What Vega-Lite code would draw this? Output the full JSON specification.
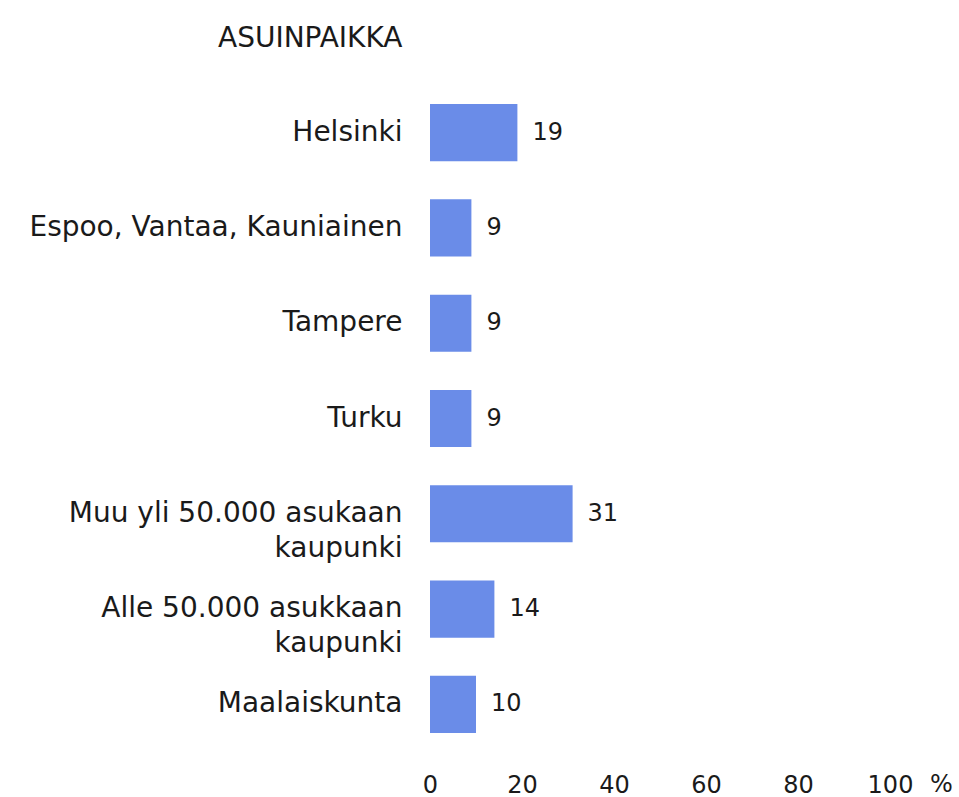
{
  "$schema": "https://vega.github.io/schema/vega-lite/v6.json",
  "autosize": {"type": "none"},
  "padding": {"left": 430, "top": 85, "right": 69, "bottom": 45},
  "width": 460,
  "height": 667,
  "background": "white",
  "config": {
    "font": "DejaVu Sans",
    "view": {"stroke": null},
    "axis": {"labelFont": "DejaVu Sans", "titleFont": "DejaVu Sans", "labelColor": "#1a1a1a", "titleColor": "#1a1a1a"}
  },
  "data": {
    "values": [
      {"asuinpaikka": "Helsinki", "prosentti": 19},
      {"asuinpaikka": "Espoo, Vantaa, Kauniainen", "prosentti": 9},
      {"asuinpaikka": "Tampere", "prosentti": 9},
      {"asuinpaikka": "Turku", "prosentti": 9},
      {"asuinpaikka": "Muu yli 50.000 asukaan|kaupunki", "prosentti": 31},
      {"asuinpaikka": "Alle 50.000 asukkaan|kaupunki", "prosentti": 14},
      {"asuinpaikka": "Maalaiskunta", "prosentti": 10}
    ]
  },
  "encoding": {
    "y": {
      "field": "asuinpaikka",
      "type": "nominal",
      "sort": null,
      "scale": {"paddingInner": 0.4, "paddingOuter": 0.2},
      "axis": {
        "title": "ASUINPAIKKA",
        "titleAngle": 0,
        "titleAlign": "right",
        "titleBaseline": "middle",
        "titleX": -28,
        "titleY": -47,
        "titleFontSize": 28,
        "titleFontWeight": "normal",
        "labelExpr": "split(datum.label, '|')",
        "labelFontSize": 28,
        "labelLineHeight": 35,
        "labelPadding": 28,
        "labelLimit": 500,
        "ticks": false,
        "domain": false
      }
    },
    "x": {
      "field": "prosentti",
      "type": "quantitative",
      "scale": {"domain": [0, 100]},
      "axis": {
        "values": [0, 20, 40, 60, 80, 100],
        "title": "%",
        "titleX": 511,
        "titleY": 20,
        "titleAlign": "center",
        "titleBaseline": "top",
        "titleFontSize": 24,
        "titleFontWeight": "normal",
        "labelFontSize": 24,
        "labelPadding": 21,
        "labelFlush": false,
        "labelOverlap": false,
        "ticks": false,
        "domain": false,
        "grid": false
      }
    }
  },
  "layer": [
    {"mark": {"type": "bar", "color": "#6a8ce8"}},
    {
      "mark": {"type": "text", "align": "left", "baseline": "middle", "dx": 15, "fontSize": 24, "color": "#1a1a1a"},
      "encoding": {"text": {"field": "prosentti", "type": "quantitative"}}
    }
  ]
}
